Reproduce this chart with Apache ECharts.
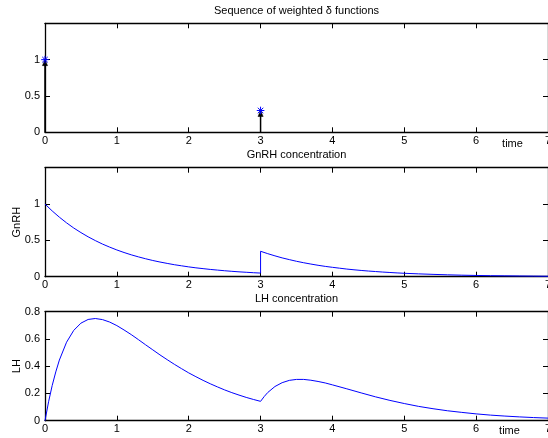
<!DOCTYPE html>
<html>
<head>
<meta charset="utf-8">
<script src="https://cdn.jsdelivr.net/npm/echarts@6/dist/echarts.min.js"></script>
<style>
html,body{margin:0;padding:0;background:#fff;}
#chart{width:548px;height:438px;}
</style>
</head>
<body>
<div id="chart"></div>
<script>
// ---- Data ----
const xTicks = [0, 1, 2, 3, 4, 5, 6, 7];
const titles = ['Sequence of weighted \u03b4 functions', 'GnRH concentration', 'LH concentration'];

// weighted delta impulses
const impulseTimes = [0, 3];
const impulseWeights = [1, 0.3];

// GnRH concentration (two values at t=3: before and after the jump)
const gnrhTime = [0,0.1,0.2,0.3,0.4,0.5,0.6,0.7,0.8,0.9,1.0,1.1,1.2,1.3,1.4,1.5,1.6,1.7,1.8,1.9,2.0,
  2.1,2.2,2.3,2.4,2.5,2.6,2.7,2.8,2.9,3.0,3.0,3.1,3.2,3.3,3.4,3.5,3.6,3.7,3.8,3.9,4.0,
  4.1,4.2,4.3,4.4,4.5,4.6,4.7,4.8,4.9,5.0,5.2,5.4,5.6,5.8,6.0,6.2,6.4,6.6,6.8,7.0];
const gnrhValue = [1.000,0.905,0.819,0.741,0.670,0.607,0.549,0.497,0.449,0.407,0.368,0.333,0.301,0.273,0.247,0.223,0.202,0.183,0.165,0.150,0.135,
  0.122,0.111,0.100,0.091,0.082,0.074,0.067,0.061,0.055,0.050,0.350,0.317,0.287,0.259,0.235,0.212,0.192,0.174,0.157,0.142,0.129,
  0.117,0.105,0.095,0.086,0.078,0.071,0.064,0.058,0.052,0.047,0.039,0.032,0.026,0.021,0.017,0.014,0.012,0.010,0.008,0.006];

// LH concentration
const lhTime = [0,0.05,0.1,0.15,0.2,0.3,0.4,0.5,0.6,0.7,0.8,0.9,1.0,1.1,1.2,1.3,1.4,1.5,1.6,1.7,1.8,1.9,2.0,
  2.1,2.2,2.3,2.4,2.5,2.6,2.7,2.8,2.9,3.0,3.05,3.1,3.2,3.3,3.4,3.5,3.6,3.7,3.8,3.9,4.0,
  4.2,4.4,4.6,4.8,5.0,5.2,5.4,5.6,5.8,6.0,6.2,6.4,6.6,6.8,7.0];
const lhValue = [0,0.139,0.258,0.358,0.445,0.576,0.663,0.716,0.743,0.750,0.742,0.724,0.698,0.666,0.632,0.595,0.557,0.520,0.483,0.448,0.414,0.382,0.351,
  0.323,0.296,0.271,0.248,0.226,0.206,0.188,0.171,0.156,0.142,0.177,0.207,0.251,0.279,0.296,0.303,0.303,0.297,0.288,0.277,0.263,
  0.234,0.204,0.175,0.149,0.126,0.105,0.088,0.073,0.061,0.050,0.041,0.034,0.028,0.023,0.019];

const yAxes = [
  {min: 0, max: 1.5, interval: 0.5, hide: [1.5], name: ''},
  {min: 0, max: 1.5, interval: 0.5, hide: [1.5], name: 'GnRH'},
  {min: 0, max: 0.8, interval: 0.2, hide: [], name: 'LH'}
];

// ---- Layout / style ----
const FONT = "'Liberation Sans', Arial, Helvetica, sans-serif";
const gridTops = [23.3, 167.7, 311.7];
const gridH = 109;
const gridLeft = 45;
const gridW = 503;
const lineCol = '#000';
const tickLen = 5;

const grids = gridTops.map(t => ({left: gridLeft, top: t, width: gridW, height: gridH,
  containLabel: false, outerBoundsMode: 'none'}));

const xAxis = [];
const yAxis = [];
for (let i = 0; i < 3; i++) {
  const mk = () => ({
    axisLine: {show: true, onZero: false, lineStyle: {color: lineCol, width: 1.3}},
    axisTick: {show: true, inside: true, length: tickLen, lineStyle: {color: lineCol, width: 1}},
    splitLine: {show: false}
  });
  xAxis.push(Object.assign(mk(), {
    type: 'value', gridIndex: i, min: xTicks[0], max: xTicks[xTicks.length - 1], interval: 1,
    position: 'bottom',
    axisLabel: {show: true, color: '#000', fontFamily: FONT, fontSize: 11, margin: 3, hideOverlap: false, showMaxLabel: true, showMinLabel: true}
  }));
  xAxis.push(Object.assign(mk(), {
    type: 'value', gridIndex: i, min: xTicks[0], max: xTicks[xTicks.length - 1], interval: 1,
    position: 'top', axisLabel: {show: false}
  }));
  const ya = yAxes[i];
  yAxis.push(Object.assign(mk(), {
    type: 'value', gridIndex: i, min: ya.min, max: ya.max, interval: ya.interval,
    position: 'left',
    name: ya.name, nameLocation: 'middle', nameGap: 23, nameRotate: 90, nameMoveOverlap: false,
    nameTextStyle: {color: '#000', fontFamily: FONT, fontSize: 11},
    axisLabel: {show: true, color: '#000', fontFamily: FONT, fontSize: 11, margin: 5,
      formatter: v => (ya.hide.some(h => Math.abs(h - v) < 1e-9) ? '' : String(+v.toFixed(2)))}
  }));
  yAxis.push(Object.assign(mk(), {
    type: 'value', gridIndex: i, min: ya.min, max: ya.max, interval: ya.interval,
    position: 'right', axisLabel: {show: false}
  }));
}

const impulseData = impulseTimes.map((t, k) => [t, impulseWeights[k]]);
const gnrhData = gnrhTime.map((t, k) => [t, gnrhValue[k]]);
const lhData = lhTime.map((t, k) => [t, lhValue[k]]);

function renderImpulse(params, api) {
  const t = api.value(0), w = api.value(1);
  const p0 = api.coord([t, 0]);
  const p1 = api.coord([t, w]);
  const ah = 6, aw = 2.6, r = 3.8, d = r * 0.72;
  return {
    type: 'group',
    children: [
      {type: 'line', shape: {x1: p0[0], y1: p0[1], x2: p1[0], y2: p1[1] + ah - 1},
        style: {stroke: '#000', lineWidth: 1.5}},
      {type: 'polygon', shape: {points: [[p1[0], p1[1]], [p1[0] - aw, p1[1] + ah], [p1[0] + aw, p1[1] + ah]]},
        style: {fill: '#000', stroke: '#000', lineWidth: 0.5}},
      {type: 'line', shape: {x1: p1[0] - r, y1: p1[1], x2: p1[0] + r, y2: p1[1]}, style: {stroke: '#0000ff', lineWidth: 1}},
      {type: 'line', shape: {x1: p1[0], y1: p1[1] - r, x2: p1[0], y2: p1[1] + r}, style: {stroke: '#0000ff', lineWidth: 1}},
      {type: 'line', shape: {x1: p1[0] - d, y1: p1[1] - d, x2: p1[0] + d, y2: p1[1] + d}, style: {stroke: '#0000ff', lineWidth: 1}},
      {type: 'line', shape: {x1: p1[0] - d, y1: p1[1] + d, x2: p1[0] + d, y2: p1[1] - d}, style: {stroke: '#0000ff', lineWidth: 1}}
    ]
  };
}

const titleCenterX = gridLeft + gridW / 2;
const graphic = [];
titles.forEach((txt, i) => {
  graphic.push({type: 'text', x: titleCenterX, y: gridTops[i] - 12.3,
    style: {text: txt, fill: '#000', font: '11px ' + FONT, textAlign: 'center', textVerticalAlign: 'middle'}});
});
graphic.push({type: 'text', x: 512.5, y: 143.7,
  style: {text: 'time', fill: '#000', font: '11px ' + FONT, textAlign: 'center', textVerticalAlign: 'middle'}});
graphic.push({type: 'text', x: 509.5, y: 431,
  style: {text: 'time', fill: '#000', font: '11px ' + FONT, textAlign: 'center', textVerticalAlign: 'middle'}});

const option = {
  animation: false,
  backgroundColor: '#fff',
  grid: grids,
  xAxis: xAxis,
  yAxis: yAxis,
  graphic: graphic,
  series: [
    {type: 'custom', xAxisIndex: 0, yAxisIndex: 0, data: impulseData, renderItem: renderImpulse, clip: false, z: 5},
    {type: 'line', xAxisIndex: 2, yAxisIndex: 2, data: gnrhData, showSymbol: false, symbol: 'none',
      lineStyle: {color: '#0000ff', width: 1}, z: 3},
    {type: 'line', xAxisIndex: 4, yAxisIndex: 4, data: lhData, showSymbol: false, symbol: 'none', smooth: false,
      lineStyle: {color: '#0000ff', width: 1}, z: 3}
  ]
};

const chart = echarts.init(document.getElementById('chart'), null, {renderer: 'canvas'});
chart.setOption(option);
</script>
</body>
</html>
